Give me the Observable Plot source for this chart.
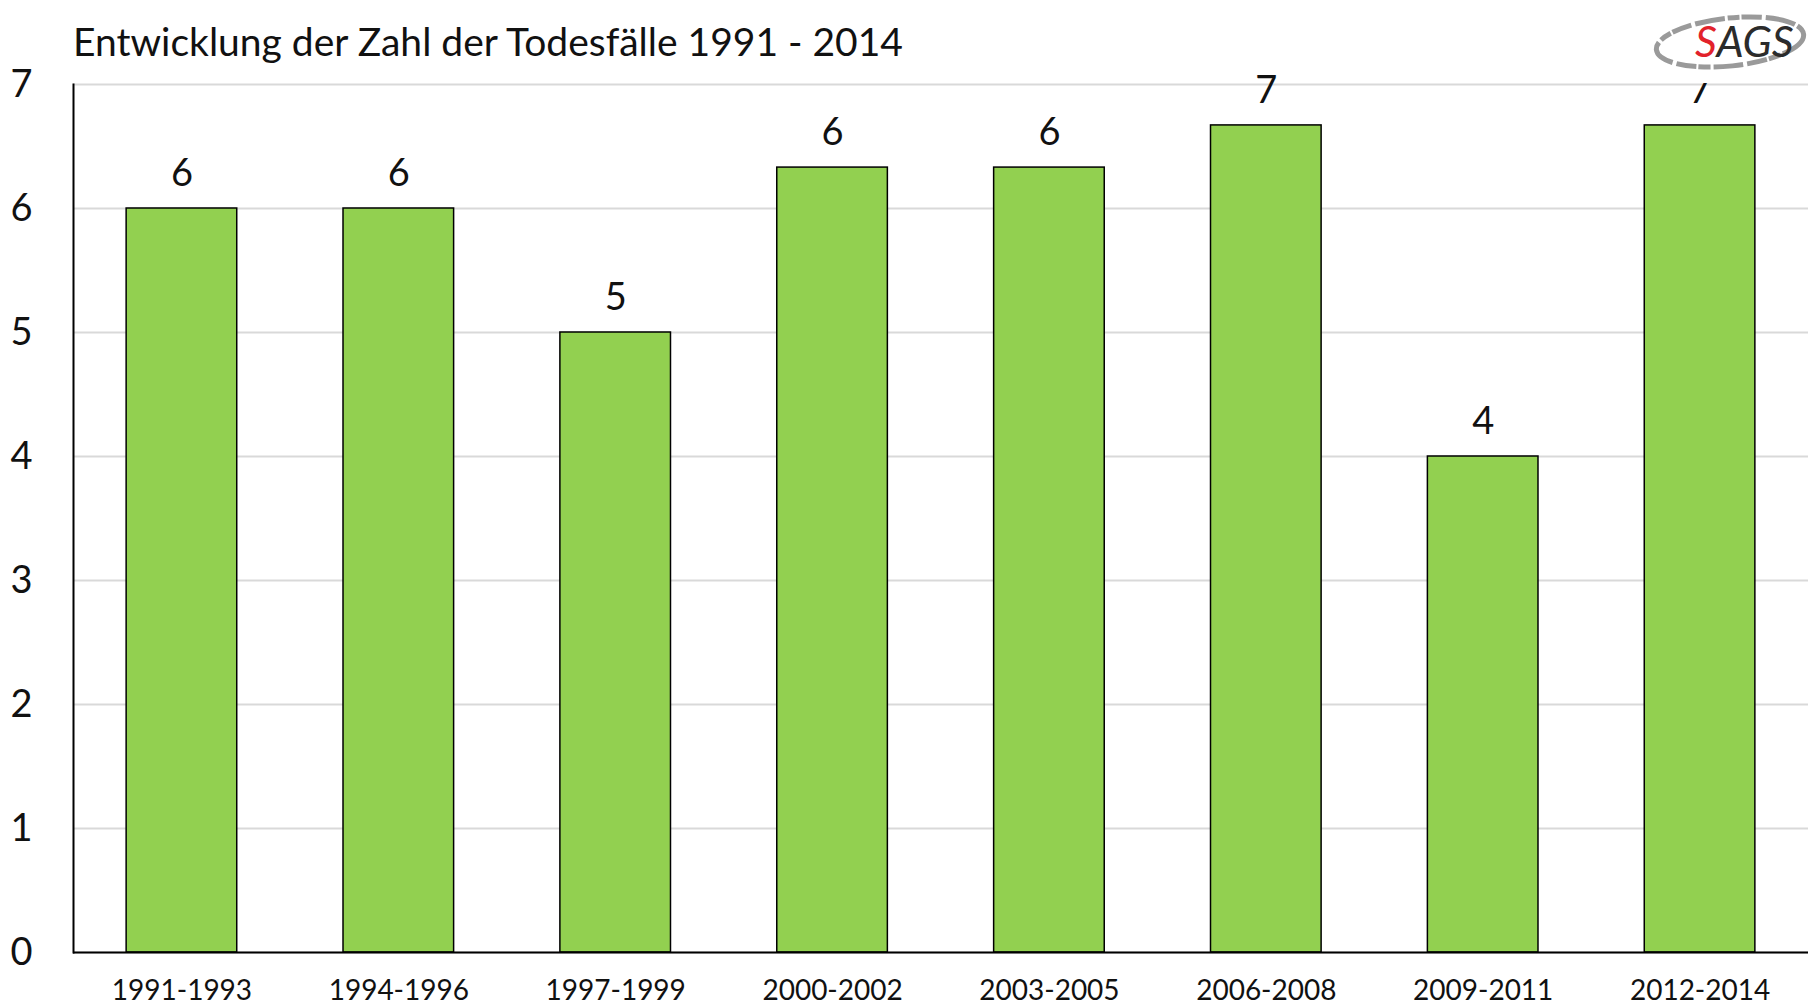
<!DOCTYPE html>
<html>
<head>
<meta charset="utf-8">
<script src="https://cdn.jsdelivr.net/npm/d3@7"></script>
<script src="https://cdn.jsdelivr.net/npm/@observablehq/plot@0.6"></script>
<style>
  html, body { margin: 0; padding: 0; background: #fff; }
  #wrap { position: relative; width: 1814px; height: 1008px; font-family: Lato, "Open Sans", sans-serif; }
  #title { position: absolute; left: 73px; top: 18px; font-size: 39px; color: #111; white-space: nowrap; }
  #logo { position: absolute; left: 1650px; top: 0; }
</style>
</head>
<body>
<div id="wrap">
  <div id="chart"></div>
  <div id="title">Entwicklung der Zahl der Todesfälle 1991 - 2014</div>
  <svg id="logo" width="164" height="83" viewBox="0 0 164 83">
    <rect x="0" y="0" width="164" height="83" fill="#fff"/>
    <ellipse cx="80" cy="42" rx="74" ry="24" fill="none" stroke="#9a9a9a" stroke-width="5" stroke-dasharray="30 3 12 2 20 4" transform="rotate(-6 80 42)"/>
    <text x="45" y="57" font-family="Lato, 'Open Sans', sans-serif" font-style="italic" font-size="43"><tspan fill="#e2222b">S</tspan><tspan fill="#2b2b2b">AGS</tspan></text>
  </svg>
</div>
<script>
const periods = ["1991-1993", "1994-1996", "1997-1999", "2000-2002", "2003-2005", "2006-2008", "2009-2011", "2012-2014"];
const deaths = [6, 6, 5, 6.33, 6.33, 6.67, 4, 6.67];
const yTicks = [0, 1, 2, 3, 4, 5, 6, 7];

const data = periods.map((p, i) => ({period: p, value: deaths[i]}));

const chart = Plot.plot({
  width: 1814,
  height: 1008,
  marginLeft: 73,
  marginRight: 6,
  marginTop: 84,
  marginBottom: 56,
  style: {fontFamily: "Lato, 'Open Sans', sans-serif", color: "#111", background: "transparent"},
  x: {domain: periods, paddingInner: 0.49, paddingOuter: 0.245, align: 0.5, round: false},
  y: {domain: [0, 7]},
  marks: [
    Plot.gridY(yTicks, {stroke: "#d9d9d9", strokeOpacity: 1, strokeWidth: 2}),
    Plot.barY(data, {x: "period", y: "value", fill: "#92d050", stroke: "#000", strokeWidth: 1.5}),
    Plot.text(data, {x: "period", y: "value", text: d => String(Math.round(d.value)), dy: -35, fontSize: 38, fill: "#111"}),
    Plot.ruleY([0], {stroke: "#000", strokeWidth: 2}),
    Plot.frame({anchor: "left", stroke: "#000", strokeWidth: 2}),
    Plot.axisY(yTicks, {tickSize: 0, tickPadding: 41, fontSize: 38, label: null, tickFormat: d3.format("d")}),
    Plot.axisX({tickSize: 0, tickPadding: 28, fontSize: 28, label: null})
  ]
});
document.getElementById("chart").appendChild(chart);
</script>
</body>
</html>
